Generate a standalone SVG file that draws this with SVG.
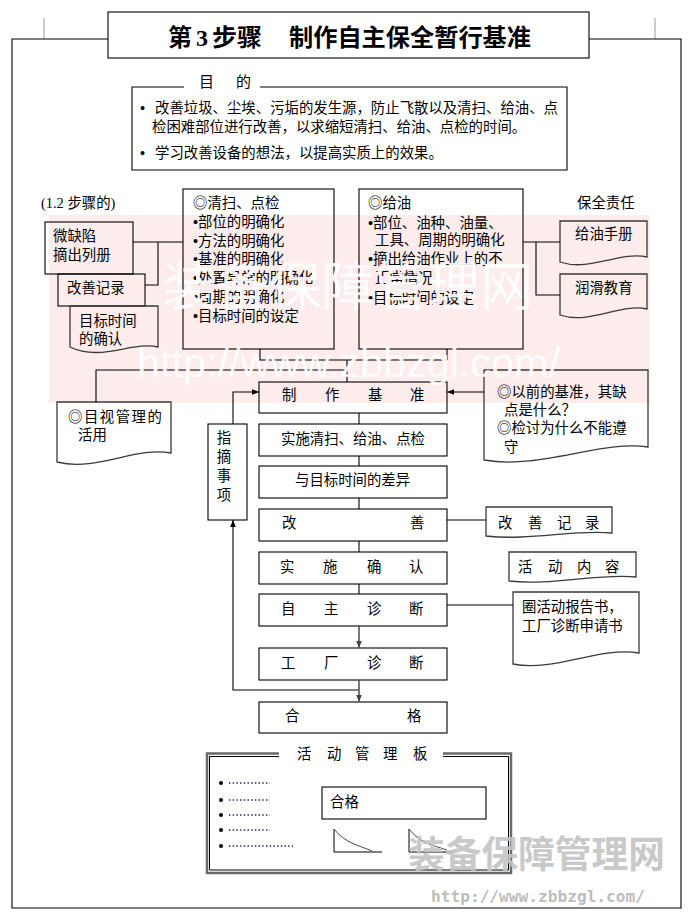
<svg xmlns="http://www.w3.org/2000/svg" width="690" height="920" viewBox="0 0 690 920">
<defs>
<style>
.t{font-family:"Noto Sans CJK SC","Noto Sans CJK JP",sans-serif;font-size:14.4px;fill:#000}
.b{fill:none;stroke:#000;stroke-width:1.1}
.d{fill:none;stroke:#3a3a3a;stroke-width:1.3}
.c{fill:none;stroke:#000;stroke-width:1.1}
.g{fill:none;stroke:#555;stroke-width:1.6}
.bul{font-family:"Liberation Sans",sans-serif}
.wm{font-family:"Noto Sans CJK SC",sans-serif;fill:#fff;opacity:0.9}
</style>
<marker id="ah" viewBox="0 0 10 10" refX="10" refY="5" markerWidth="7" markerHeight="7" markerUnits="userSpaceOnUse" orient="auto"><path d="M0,1 L10,5 L0,9 z" fill="#000"/></marker>
<marker id="ahg" viewBox="0 0 10 10" refX="10" refY="5" markerWidth="7" markerHeight="7" markerUnits="userSpaceOnUse" orient="auto"><path d="M0,1 L10,5 L0,9 z" fill="#444"/></marker>
</defs>
<rect width="690" height="920" fill="#fff"/>
<!-- watermark band (background) -->
<rect x="49" y="215" width="601" height="188" fill="#fcecec"/>

<!-- frame -->
<g id="frame">
<path d="M44,18 V39 M655,18 V39" stroke="#aaa" stroke-width="1.2" fill="none"/>
<path d="M108,39 H12 V908 H681 V39 H589" class="b" stroke-width="1.4"/>
</g>

<g id="title">
<rect x="108" y="12" width="481" height="46" class="b" stroke-width="1.3"/>
<text x="168" y="46" style="font-family:'Noto Sans CJK SC',sans-serif;font-size:24px;font-weight:bold">第</text>
<text x="196" y="46" style="font-family:'Liberation Serif',serif;font-size:24px;font-weight:bold">3</text>
<text x="212" y="46" style="font-family:'Noto Sans CJK SC',sans-serif;font-size:24px;font-weight:bold" textLength="50" lengthAdjust="spacingAndGlyphs">步骤</text>
<text x="289" y="46" style="font-family:'Noto Sans CJK SC',sans-serif;font-size:24px;font-weight:bold" textLength="242" lengthAdjust="spacingAndGlyphs">制作自主保全暂行基准</text>
</g>

<g id="purpose">
<path d="M184,87 H132 V170 H567 V87 H260" class="b"/>
<text class="t" x="199" y="87" style="font-size:15px">目</text>
<text class="t" x="236" y="87" style="font-size:15px">的</text>
<text class="t bul" x="140" y="113">•</text>
<text class="t" x="155" y="113">改善垃圾、尘埃、污垢的发生源，防止飞散以及清扫、给油、点</text>
<text class="t" x="152" y="132">检困难部位进行改善，以求缩短清扫、给油、点检的时间。</text>
<text class="t bul" x="140" y="158">•</text>
<text class="t" x="155" y="158">学习改善设备的想法，以提高实质上的效果。</text>
</g>

<g id="step12label">
<text class="t" x="41" y="208"><tspan style="font-family:'Liberation Serif',serif">(1.2 </tspan>步骤的<tspan style="font-family:'Liberation Serif',serif">)</tspan></text>
</g>

<g id="n-weiquexian">
<rect x="45" y="222" width="88" height="52" class="b"/>
<text class="t" x="53" y="241">微缺陷</text>
<text class="t" x="53" y="260">摘出列册</text>
</g>
<g id="n-gaishanjilu1">
<rect x="58" y="274" width="87" height="32" class="b"/>
<text class="t" x="67" y="293">改善记录</text>
</g>
<g id="n-mubiaoshijian">
<path d="M70,306 H158 V347 C132,341 101,362 70,347 Z" class="d"/>
<text class="t" x="79" y="326">目标时间</text>
<text class="t" x="79" y="344">的确认</text>
</g>

<g id="n-qingsao">
<rect x="183" y="189" width="151" height="160" class="b"/>
<text class="t" x="193" y="208">◎清扫、点检</text>
<text class="t" x="193" y="227"><tspan class="bul">•</tspan>部位的明确化</text>
<text class="t" x="193" y="246"><tspan class="bul">•</tspan>方法的明确化</text>
<text class="t" x="193" y="264"><tspan class="bul">•</tspan>基准的明确化</text>
<text class="t" x="193" y="283"><tspan class="bul">•</tspan>处置异常的明确化</text>
<text class="t" x="193" y="302"><tspan class="bul">•</tspan>周期的明确化</text>
<text class="t" x="193" y="321"><tspan class="bul">•</tspan>目标时间的设定</text>
</g>

<g id="n-geiyou">
<rect x="359" y="189" width="164" height="160" class="b"/>
<text class="t" x="368" y="208">◎给油</text>
<text class="t" x="368" y="228"><tspan class="bul">•</tspan>部位、油种、油量、</text>
<text class="t" x="375" y="245">工具、周期的明确化</text>
<text class="t" x="368" y="264"><tspan class="bul">•</tspan>摘出给油作业上的不</text>
<text class="t" x="375" y="283">正常情况</text>
<text class="t" x="368" y="303"><tspan class="bul">•</tspan>目标时间的设定</text>
</g>

<g id="baoquanzeren">
<text class="t" x="577" y="208">保全责任</text>
</g>
<g id="n-geiyoushouce">
<path d="M560,221 H647 V257 C620,251 590,272 560,262 Z" class="d"/>
<text class="t" x="575" y="239">给油手册</text>
</g>
<g id="n-runhua">
<path d="M560,274 H647 V309 C620,303 590,325 560,315 Z" class="d"/>
<text class="t" x="575" y="293">润滑教育</text>
</g>

<g id="n-mushi">
<path d="M57,402 H171 V453 C136,446 97,472 57,462 Z" class="d"/>
<text class="t" x="68" y="422" style="letter-spacing:1.5px">◎目视管理的</text>
<text class="t" x="78" y="440">活用</text>
</g>

<g id="n-zhaizhai">
<rect x="208" y="424" width="39" height="96" class="b"/>
<text class="t" x="224" y="443" text-anchor="middle">指</text>
<text class="t" x="224" y="462" text-anchor="middle">摘</text>
<text class="t" x="224" y="481" text-anchor="middle">事</text>
<text class="t" x="224" y="500" text-anchor="middle">项</text>
</g>

<g id="n-zhizuo">
<rect x="259" y="382" width="188" height="31" class="b"/>
<text class="t" x="282 325 368 410" y="400">制作基准</text>
</g>
<g id="n-shishiqingsao">
<rect x="259" y="424" width="188" height="32" class="b"/>
<text class="t" x="281" y="444">实施清扫、给油、点检</text>
</g>
<g id="n-chayi">
<rect x="259" y="466" width="188" height="32" class="b"/>
<text class="t" x="295" y="485">与目标时间的差异</text>
</g>
<g id="n-gaishan">
<rect x="259" y="509" width="188" height="32" class="b"/>
<text class="t" x="282 410" y="528">改善</text>
</g>
<g id="n-queren">
<rect x="259" y="552" width="188" height="32" class="b"/>
<text class="t" x="280 323 367 409" y="572">实施确认</text>
</g>
<g id="n-zizhu">
<rect x="259" y="594" width="188" height="32" class="b"/>
<text class="t" x="281 324 367 409" y="614">自主诊断</text>
</g>
<g id="n-gongchang">
<rect x="259" y="648" width="188" height="32" class="b"/>
<text class="t" x="281 324 367 409" y="668">工厂诊断</text>
</g>
<g id="n-hege">
<rect x="259" y="702" width="188" height="31" class="b"/>
<text class="t" x="285 407" y="721">合格</text>
</g>

<g id="n-yiqian">
<path d="M484,370 H648 V447 C600,440 540,470 484,460 Z" class="d"/>
<text class="t" x="497" y="397">◎以前的基准，其缺</text>
<text class="t" x="504" y="415">点是什么？</text>
<text class="t" x="497" y="433">◎检讨为什么不能遵</text>
<text class="t" x="504" y="452">守</text>
</g>
<g id="n-gaishanjilu2">
<path d="M486,507 H612 V533 C575,529 530,541 486,536 Z" class="d"/>
<text class="t" x="498 528 557 585" y="528">改善记录</text>
</g>
<g id="n-huodongneirong">
<path d="M509,552 H636 V577 C600,573 550,586 509,581 Z" class="d"/>
<text class="t" x="518 548 577 605" y="572">活动内容</text>
</g>
<g id="n-quanhuodong">
<path d="M513,592 H639 V653 C600,646 555,672 513,664 Z" class="d"/>
<text class="t" x="522" y="612">圈活动报告书，</text>
<text class="t" x="522" y="631">工厂诊断申请书</text>
</g>

<g id="connectors">
<path class="c" d="M133,242 H183 M158,242 V285 H145"/>
<path class="c" d="M523,242 H560 M536,242 V295 H560"/>
<path class="c" d="M260,349 V360 H447 M447,349 V360 M347,360 V382"/>
<path class="c" d="M96,402 V370 H347"/>
<path class="c" d="M484,392 H447" marker-end="url(#ah)"/>
<path class="c" d="M233,424 V392 H259" marker-end="url(#ah)"/>
<path class="c" d="M359,690 H233 V520" marker-end="url(#ah)"/>
<path class="c" d="M359,413 V424 M359,456 V466 M359,498 V509 M359,541 V552 M359,584 V594"/>
<path class="c" d="M447,520 H486 M447,605 H513"/>
<path class="g" d="M359,626 V648" marker-end="url(#ahg)"/>
<path class="g" d="M359,680 V702" marker-end="url(#ahg)"/>
</g>

<g id="board">
<path d="M279,753.5 H207 V873 H511 V753.5 H443" fill="none" stroke="#6a6a6a" stroke-width="2.5"/>
<path d="M279,756.5 H209.5 V870 H508.5 V756.5 H443" fill="none" stroke="#000" stroke-width="1"/>
<text class="t" x="297 327 355 383 413" y="759">活动管理板</text>
<g fill="#000">
<circle cx="221" cy="783" r="2"/><circle cx="221" cy="800" r="2"/><circle cx="221" cy="815" r="2"/><circle cx="221" cy="830" r="2"/><circle cx="221" cy="846" r="2"/>
</g>
<path d="M229,783 H270 M229,800 H270 M229,815 H270 M229,830 H270 M229,846 H293" stroke="#1a1a6e" stroke-width="1.5" stroke-dasharray="1.4 2.3" fill="none"/>
<rect x="322" y="787" width="164" height="32" class="b"/>
<text class="t" x="330" y="807">合格</text>
<path d="M334,829 V852 H382 M409,829 V852 H453" fill="none" stroke="#000" stroke-width="1"/>
<path d="M334,829 C345,843 358,845 372,851 M409,829 C420,843 432,845 447,850" fill="none" stroke="#444" stroke-width="1"/>
</g>

<!-- watermarks -->
<g id="watermark">
<text class="wm" x="163" y="306" style="font-size:53px" textLength="370" lengthAdjust="spacingAndGlyphs">装备保障管理网</text>
<text x="137" y="377" style="font-family:'Liberation Sans',sans-serif;font-size:40px;fill:#fff;opacity:0.9" textLength="423" lengthAdjust="spacingAndGlyphs">http://www.zbbzgl.com/</text>
<text x="408" y="868" style="font-family:'Noto Sans CJK SC',sans-serif;font-size:37px;font-weight:bold;fill:#c4c4c4;opacity:0.9" textLength="257" lengthAdjust="spacingAndGlyphs">装备保障管理网</text>
<text x="431" y="902" style="font-family:'DejaVu Sans Mono',monospace;font-size:15.5px;font-weight:bold;fill:#bdbdbd" textLength="214" lengthAdjust="spacingAndGlyphs">http://www.zbbzgl.com/</text>
</g>
</svg>
